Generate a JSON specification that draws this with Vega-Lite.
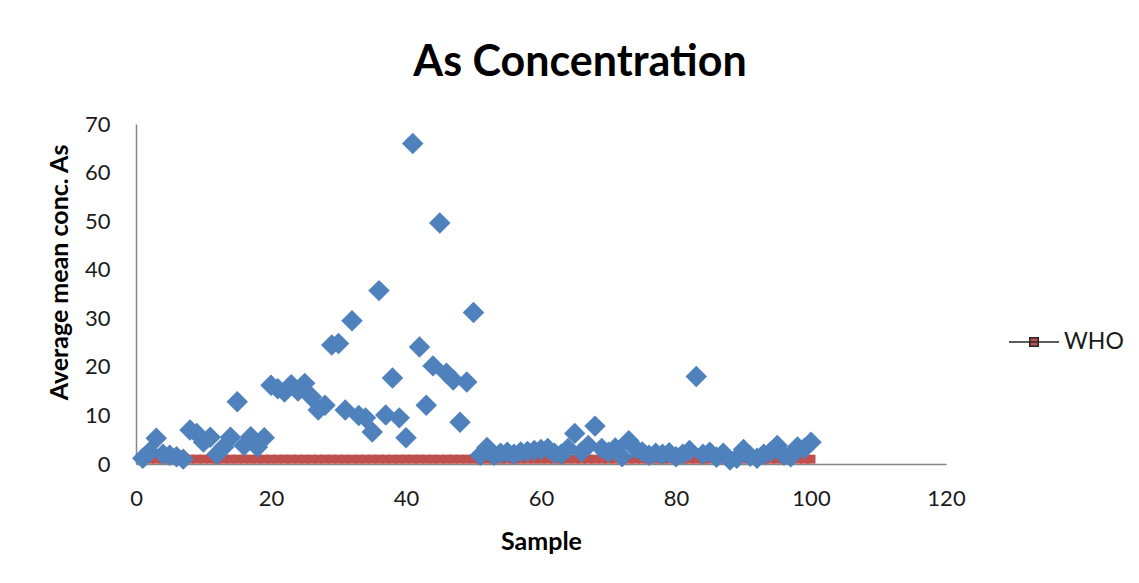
{
  "$schema": "https://vega.github.io/schema/vega-lite/v6.json",
  "width": 810,
  "height": 340,
  "autosize": {"type": "none"},
  "padding": {"left": 136, "top": 124, "right": 193, "bottom": 119},
  "background": "white",
  "title": {
    "text": "As Concentration",
    "font": "Lato",
    "fontSize": 43,
    "fontWeight": "bold",
    "color": "#000000",
    "anchor": "middle",
    "offset": 28,
    "dx": 39
  },
  "config": {
    "view": {"stroke": null},
    "axis": {
      "labelFont": "Lato",
      "labelFontSize": 22,
      "labelColor": "#1a1a1a",
      "labelFlush": false,
      "titleFont": "Lato",
      "titleFontSize": 25,
      "titleFontWeight": "bold",
      "titleColor": "#000000",
      "domainColor": "#868686",
      "domainWidth": 1.5,
      "ticks": false,
      "grid": false
    }
  },
  "data": {
    "values": [
      {"sample": 1, "as": 1.2, "who": 1}, {"sample": 2, "as": 2.5, "who": 1}, {"sample": 3, "as": 5.3, "who": 1}, {"sample": 4, "as": 2.0, "who": 1}, {"sample": 5, "as": 1.8, "who": 1},
      {"sample": 6, "as": 1.5, "who": 1}, {"sample": 7, "as": 1.0, "who": 1}, {"sample": 8, "as": 7.0, "who": 1}, {"sample": 9, "as": 6.3, "who": 1}, {"sample": 10, "as": 4.5, "who": 1},
      {"sample": 11, "as": 5.5, "who": 1}, {"sample": 12, "as": 2.0, "who": 1}, {"sample": 13, "as": 3.5, "who": 1}, {"sample": 14, "as": 5.5, "who": 1}, {"sample": 15, "as": 12.8, "who": 1},
      {"sample": 16, "as": 3.8, "who": 1}, {"sample": 17, "as": 5.6, "who": 1}, {"sample": 18, "as": 3.5, "who": 1}, {"sample": 19, "as": 5.4, "who": 1}, {"sample": 20, "as": 16.2, "who": 1},
      {"sample": 21, "as": 15.5, "who": 1}, {"sample": 22, "as": 14.8, "who": 1}, {"sample": 23, "as": 16.3, "who": 1}, {"sample": 24, "as": 15.0, "who": 1}, {"sample": 25, "as": 16.6, "who": 1},
      {"sample": 26, "as": 13.8, "who": 1}, {"sample": 27, "as": 11.1, "who": 1}, {"sample": 28, "as": 12.1, "who": 1}, {"sample": 29, "as": 24.5, "who": 1}, {"sample": 30, "as": 24.8, "who": 1},
      {"sample": 31, "as": 11.1, "who": 1}, {"sample": 32, "as": 29.5, "who": 1}, {"sample": 33, "as": 10.0, "who": 1}, {"sample": 34, "as": 9.5, "who": 1}, {"sample": 35, "as": 6.6, "who": 1},
      {"sample": 36, "as": 35.7, "who": 1}, {"sample": 37, "as": 10.1, "who": 1}, {"sample": 38, "as": 17.7, "who": 1}, {"sample": 39, "as": 9.5, "who": 1}, {"sample": 40, "as": 5.4, "who": 1},
      {"sample": 41, "as": 66.0, "who": 1}, {"sample": 42, "as": 24.1, "who": 1}, {"sample": 43, "as": 12.1, "who": 1}, {"sample": 44, "as": 20.2, "who": 1}, {"sample": 45, "as": 49.6, "who": 1},
      {"sample": 46, "as": 18.7, "who": 1}, {"sample": 47, "as": 17.3, "who": 1}, {"sample": 48, "as": 8.6, "who": 1}, {"sample": 49, "as": 16.9, "who": 1}, {"sample": 50, "as": 31.2, "who": 1},
      {"sample": 51, "as": 1.8, "who": 1}, {"sample": 52, "as": 3.4, "who": 1}, {"sample": 53, "as": 1.8, "who": 1}, {"sample": 54, "as": 2.2, "who": 1}, {"sample": 55, "as": 2.4, "who": 1},
      {"sample": 56, "as": 2.0, "who": 1}, {"sample": 57, "as": 2.5, "who": 1}, {"sample": 58, "as": 2.6, "who": 1}, {"sample": 59, "as": 2.8, "who": 1}, {"sample": 60, "as": 3.0, "who": 1},
      {"sample": 61, "as": 3.2, "who": 1}, {"sample": 62, "as": 2.2, "who": 1}, {"sample": 63, "as": 2.0, "who": 1}, {"sample": 64, "as": 3.2, "who": 1}, {"sample": 65, "as": 6.3, "who": 1},
      {"sample": 66, "as": 2.5, "who": 1}, {"sample": 67, "as": 3.8, "who": 1}, {"sample": 68, "as": 7.8, "who": 1}, {"sample": 69, "as": 3.2, "who": 1}, {"sample": 70, "as": 2.4, "who": 1},
      {"sample": 71, "as": 3.3, "who": 1}, {"sample": 72, "as": 1.5, "who": 1}, {"sample": 73, "as": 4.8, "who": 1}, {"sample": 74, "as": 3.2, "who": 1}, {"sample": 75, "as": 2.5, "who": 1},
      {"sample": 76, "as": 1.8, "who": 1}, {"sample": 77, "as": 2.2, "who": 1}, {"sample": 78, "as": 2.0, "who": 1}, {"sample": 79, "as": 2.3, "who": 1}, {"sample": 80, "as": 1.5, "who": 1},
      {"sample": 81, "as": 2.0, "who": 1}, {"sample": 82, "as": 2.8, "who": 1}, {"sample": 83, "as": 18.0, "who": 1}, {"sample": 84, "as": 2.0, "who": 1}, {"sample": 85, "as": 2.4, "who": 1},
      {"sample": 86, "as": 1.4, "who": 1}, {"sample": 87, "as": 2.2, "who": 1}, {"sample": 88, "as": 0.8, "who": 1}, {"sample": 89, "as": 1.2, "who": 1}, {"sample": 90, "as": 3.0, "who": 1},
      {"sample": 91, "as": 1.6, "who": 1}, {"sample": 92, "as": 1.2, "who": 1}, {"sample": 93, "as": 2.0, "who": 1}, {"sample": 94, "as": 2.5, "who": 1}, {"sample": 95, "as": 3.8, "who": 1},
      {"sample": 96, "as": 1.8, "who": 1}, {"sample": 97, "as": 1.5, "who": 1}, {"sample": 98, "as": 3.5, "who": 1}, {"sample": 99, "as": 3.2, "who": 1}, {"sample": 100, "as": 4.5, "who": 1}
    ]
  },
  "layer": [
    {
      "mark": {"type": "line", "color": "#262626", "strokeWidth": 1},
      "encoding": {
        "x": {"field": "sample", "type": "quantitative", "scale": {"domain": [0, 120]}, "axis": {"values": [0, 20, 40, 60, 80, 100, 120], "title": "Sample", "labelPadding": 24, "titlePadding": 20}},
        "y": {"field": "who", "type": "quantitative", "scale": {"domain": [0, 70]}, "axis": {"values": [0, 10, 20, 30, 40, 50, 60, 70], "title": "Average mean conc. As", "labelPadding": 26, "titlePadding": 12, "titleY": 148}}
      }
    },
    {
      "mark": {"type": "point", "shape": "square", "filled": true, "size": 81, "opacity": 1},
      "encoding": {
        "x": {"field": "sample", "type": "quantitative"},
        "y": {"field": "who", "type": "quantitative"},
        "color": {
          "datum": "WHO",
          "scale": {"domain": ["WHO"], "range": ["#C0504D"]},
          "legend": {
            "title": null,
            "orient": "none",
            "legendX": 872,
            "legendY": 192,
            "symbolType": "M-1,0H1M-0.17,-0.17H0.17V0.17H-0.17Z",
            "symbolSize": 2500,
            "symbolFillColor": "#C0504D",
            "symbolStrokeColor": "#262626",
            "symbolStrokeWidth": 1.5,
            "labelFont": "Lato",
            "labelFontSize": 23,
            "labelColor": "#1a1a1a",
            "labelOffset": 4,
            "encode": {"symbols": {"update": {"stroke": {"value": "#262626"}, "strokeWidth": {"value": 1.5}, "fill": {"value": "#C0504D"}, "opacity": {"value": 1}}}}
          }
        }
      }
    },
    {
      "mark": {"type": "point", "shape": "diamond", "filled": true, "size": 460, "color": "#4F81BD", "opacity": 1},
      "encoding": {
        "x": {"field": "sample", "type": "quantitative"},
        "y": {"field": "as", "type": "quantitative"}
      }
    }
  ]
}
